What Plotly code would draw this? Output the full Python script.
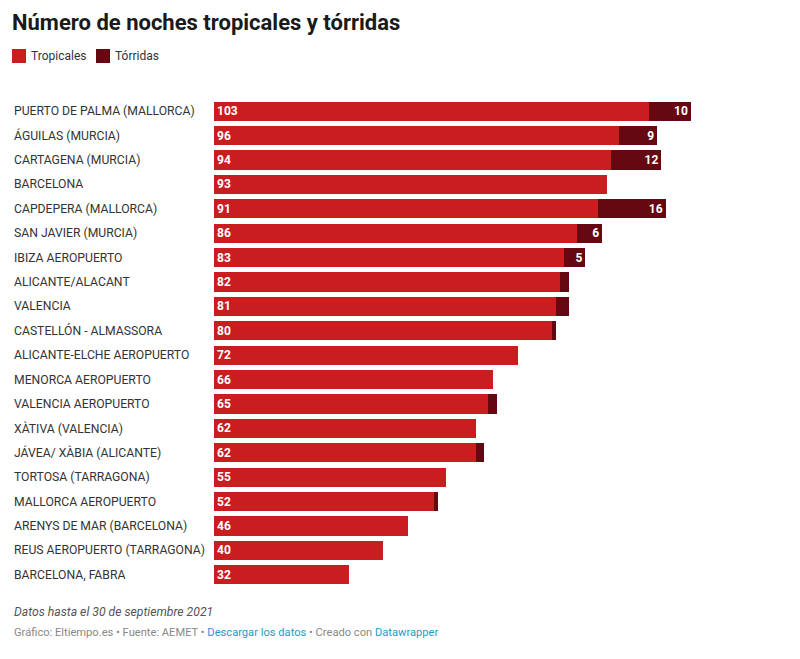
import plotly.graph_objects as go

# Datos
estaciones = [
    "PUERTO DE PALMA (MALLORCA)", "ÁGUILAS (MURCIA)", "CARTAGENA (MURCIA)", "BARCELONA",
    "CAPDEPERA (MALLORCA)", "SAN JAVIER (MURCIA)", "IBIZA AEROPUERTO", "ALICANTE/ALACANT",
    "VALENCIA", "CASTELLÓN - ALMASSORA", "ALICANTE-ELCHE AEROPUERTO", "MENORCA AEROPUERTO",
    "VALENCIA AEROPUERTO", "XÀTIVA (VALENCIA)", "JÁVEA/ XÀBIA (ALICANTE)", "TORTOSA (TARRAGONA)",
    "MALLORCA AEROPUERTO", "ARENYS DE MAR (BARCELONA)", "REUS AEROPUERTO (TARRAGONA)",
    "BARCELONA, FABRA",
]
tropicales = [103, 96, 94, 93, 91, 86, 83, 82, 81, 80, 72, 66, 65, 62, 62, 55, 52, 46, 40, 32]
torridas = [10, 9, 12, 0, 16, 6, 5, 2, 3, 1, 0, 0, 2, 0, 2, 0, 1, 0, 0, 0]

ROJO = "#c91d1f"
GRANATE = "#660812"
FONT = "Roboto"

# la página añade 8px de margen: todo se dibuja 8px más arriba/izquierda
OFF = 8
W, H = 800 - OFF, 659 - OFF
ML, MR, MT, MB = 214 - OFF, 109, 99 - OFF, 72
pw, ph = W - ML - MR, H - MT - MB


def px_x(p):
    return (p - OFF - ML) / pw


def px_y(p):
    return (H - MB - (p - OFF)) / ph


fig = go.Figure()
fig.add_trace(go.Bar(
    name="Tropicales", y=estaciones, x=tropicales, orientation="h",
    marker=dict(color=ROJO, line=dict(width=0)),
    text=[str(v) for v in tropicales], textposition="inside", insidetextanchor="start",
    textangle=0, constraintext="none",
    textfont=dict(color="white", size=12, family=FONT, weight="bold"),
    hoverinfo="x+y",
))
fig.add_trace(go.Bar(
    name="Tórridas", y=estaciones, x=torridas, orientation="h",
    marker=dict(color=GRANATE, line=dict(width=0)),
    text=[str(v) if v >= 5 else "" for v in torridas], textposition="inside",
    insidetextanchor="end", textangle=0, constraintext="none",
    textfont=dict(color="white", size=12, family=FONT, weight="bold"),
    hoverinfo="x+y",
))

# Etiquetas de las estaciones alineadas a la izquierda
for e in estaciones:
    fig.add_annotation(x=0, xref="paper", xshift=-(214 - 12), y=e, yref="y", text=e,
                       showarrow=False, xanchor="left",
                       font=dict(size=12.2, color="#333333", family=FONT))

# Leyenda manual
for nombre, color, x0 in [("Tropicales", ROJO, 12), ("Tórridas", GRANATE, 96)]:
    fig.add_shape(type="rect", xref="paper", yref="paper",
                  x0=px_x(x0), x1=px_x(x0 + 14), y0=px_y(49), y1=px_y(63),
                  fillcolor=color, line=dict(width=0))
    fig.add_annotation(x=px_x(x0 + 17), xref="paper", y=px_y(56), yref="paper",
                       text=nombre, showarrow=False, xanchor="left", yanchor="middle",
                       font=dict(size=12, color="#333333", family=FONT))

fig.add_annotation(x=px_x(12), xref="paper", y=px_y(612), yref="paper",
                   text="<i>Datos hasta el 30 de septiembre 2021</i>", showarrow=False,
                   xanchor="left", yanchor="middle",
                   font=dict(size=12.2, color="#555555", family=FONT))
fig.add_annotation(x=px_x(12), xref="paper", y=px_y(632), yref="paper",
                   text="Gráfico: Eltiempo.es • Fuente: AEMET • "
                        "<span style='color:#1d9bc8'>Descargar los datos</span> • Creado con "
                        "<span style='color:#1d9bc8'>Datawrapper</span>",
                   showarrow=False, xanchor="left", yanchor="middle",
                   font=dict(size=11.15, color="#888888", family=FONT))

fig.update_layout(
    width=W, height=H,
    margin=dict(l=ML, r=MR, t=MT, b=MB),
    barmode="stack", bargap=0.22,
    plot_bgcolor="white", paper_bgcolor="white",
    font=dict(family=FONT, size=12, color="#333333"),
    title=dict(text="<b>Número de noches tropicales y tórridas</b>",
               x=(12 - OFF) / W, xanchor="left", xref="container",
               y=1 - (22 - OFF) / H, yanchor="middle", yref="container",
               font=dict(size=22, color="#1a1a1a", family=FONT)),
    showlegend=False,
    xaxis=dict(range=[0, 113], visible=False, fixedrange=True),
    yaxis=dict(autorange="reversed", showticklabels=False, showgrid=False,
               zeroline=False, fixedrange=True),
    uniformtext=dict(minsize=12, mode="show"),
)

fig.write_html("out.html")
